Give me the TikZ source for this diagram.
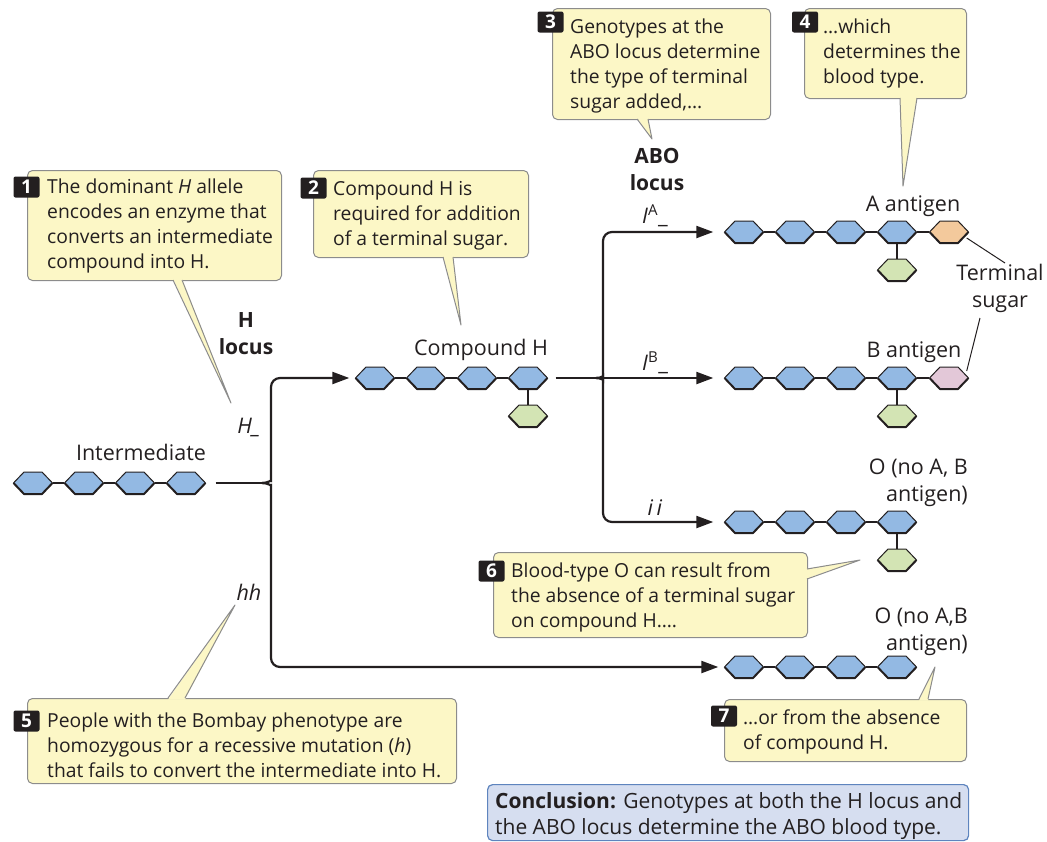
\documentclass[tikz,border=0pt]{standalone}
\usepackage{fontspec}
\setmainfont{Open Sans}
\usetikzlibrary{arrows.meta}
\definecolor{ink}{HTML}{231F20}
\definecolor{hexblue}{HTML}{93B9E3}
\definecolor{hexgreen}{HTML}{D3E4B4}
\definecolor{hexorange}{HTML}{F3C99C}
\definecolor{hexpink}{HTML}{E3C8D8}
\definecolor{callfill}{HTML}{FCF7C6}
\definecolor{callline}{HTML}{8C8C8C}
\definecolor{concfill}{HTML}{D6DEF0}
\definecolor{concline}{HTML}{5E84BE}
\tikzset{
  hexbox/.style={rectangle, minimum width=39pt, minimum height=22pt, inner sep=0pt},
  bond/.style={draw=ink, line width=1.2pt},
  flowline/.style={draw=ink, line width=2.2pt},
  flow/.style={flowline, -{Triangle[length=17pt,width=12pt]}, rounded corners=9pt},
  cbox/.style={draw=callline, line width=1pt, fill=callfill, rounded corners=5pt, inner sep=0pt, anchor=north west},
  tailfill/.style={fill=callfill},
  tailline/.style={draw=callline, line width=1pt, line join=round},
  txt/.style={inner sep=0pt, text=ink, font=\fontsize{19.3}{25}\selectfont},
  ctext/.style={txt, anchor=base west, align=left},
  lbltxt/.style={inner sep=0pt, text=ink, font=\fontsize{21.5}{26.5}\selectfont},
  lbl/.style={lbltxt, anchor=base, align=center},
  boldlbl/.style={lbl, font=\fontsize{21}{27}\selectfont\bfseries},
  badge/.style={fill=ink, rounded corners=2pt, minimum width=26pt, minimum height=21pt, inner sep=0pt, text=white, font=\fontsize{19}{19}\selectfont\bfseries},
  pointer/.style={draw=ink, line width=1pt},
}
\newcommand\hexa[4]{%
  \node[hexbox] (#1) at (#2,#3) {};
  \begin{scope}[shift={(#1.center)}]
    \fill[#4] (-19.5,0) -- (-9,-11) -- (9,-11) -- (19.5,0) -- (9,11) -- (-9,11) -- cycle;
    \draw[ink, line width=1pt, line join=round] (-19.5,0) -- (-9,-11) -- (9,-11) -- (19.5,0);
    \draw[ink, line width=2pt, line join=round] (-19.5,0) -- (-9,11) -- (9,11) -- (19.5,0);
  \end{scope}}
\begin{document}
\begin{tikzpicture}[x=1pt,y=-1pt]
\useasboundingbox (0,0) rectangle (1047,841);

% ---------- hexagon chains ----------
\hexa{i1}{33}{483}{hexblue}\hexa{i2}{84}{483}{hexblue}\hexa{i3}{135}{483}{hexblue}\hexa{i4}{186}{483}{hexblue}
\draw[bond] (i1) -- (i2) (i2) -- (i3) (i3) -- (i4);

\hexa{c1}{375}{378}{hexblue}\hexa{c2}{426}{378}{hexblue}\hexa{c3}{477}{378}{hexblue}\hexa{c4}{528}{378}{hexblue}
\hexa{c5}{528}{416}{hexgreen}
\draw[bond] (c1) -- (c2) (c2) -- (c3) (c3) -- (c4) (c4) -- (c5);

\hexa{a1}{744}{232}{hexblue}\hexa{a2}{795}{232}{hexblue}\hexa{a3}{846}{232}{hexblue}\hexa{a4}{897}{232}{hexblue}
\hexa{a5}{949}{232}{hexorange}\hexa{a6}{897}{270}{hexgreen}
\draw[bond] (a1) -- (a2) (a2) -- (a3) (a3) -- (a4) (a4) -- (a5) (a4) -- (a6);

\hexa{b1}{744}{378}{hexblue}\hexa{b2}{795}{378}{hexblue}\hexa{b3}{846}{378}{hexblue}\hexa{b4}{897}{378}{hexblue}
\hexa{b5}{949}{378}{hexpink}\hexa{b6}{897}{416}{hexgreen}
\draw[bond] (b1) -- (b2) (b2) -- (b3) (b3) -- (b4) (b4) -- (b5) (b4) -- (b6);

\hexa{o1}{744}{522}{hexblue}\hexa{o2}{795}{522}{hexblue}\hexa{o3}{846}{522}{hexblue}\hexa{o4}{897}{522}{hexblue}
\hexa{o5}{897}{560}{hexgreen}
\draw[bond] (o1) -- (o2) (o2) -- (o3) (o3) -- (o4) (o4) -- (o5);

\hexa{h1}{744}{667}{hexblue}\hexa{h2}{795}{667}{hexblue}\hexa{h3}{846}{667}{hexblue}\hexa{h4}{897}{667}{hexblue}
\draw[bond] (h1) -- (h2) (h2) -- (h3) (h3) -- (h4);

% ---------- flow arrows ----------
\coordinate (jH) at (262,483);
\coordinate (jABO) at (596,378);
\draw[flowline] ([xshift=10pt]i4.east) -- (jH);
\draw[flow, shorten >=6pt] (jH) .. controls (268,483) and (271,480) .. (271,472) -- (271,378) -- (c1);
\draw[flow, shorten >=6pt] (jH) .. controls (268,483) and (271,486) .. (271,494) -- (271,667) -- (h1);
\draw[flowline] ([xshift=8pt]c4.east) -- (jABO);
\draw[flow, shorten >=11pt] (jABO) .. controls (602,378) and (603,375) .. (603,368) -- (603,232) -- (a1);
\draw[flow, shorten >=11pt] (jABO) -- (b1);
\draw[flow, shorten >=11pt] (jABO) .. controls (602,378) and (603,381) .. (603,388) -- (603,522) -- (o1);

% ---------- labels (anchor = baseline of the last line) ----------
\node[boldlbl] (Hloc) at (246,354) {H\\locus};
\node[boldlbl] (ABOloc) at (657,190) {ABO\\locus};
\node[lbl] (Hdom) at (249,433) {\textit{H\_}};
\node[lbl] (hrec) at (249,600) {\textit{hh}};
\node[lbl] (lint) at (141,460) {Intermediate};
\node[lbl] (lcomp) at (481,355) {Compound H};
\node[lbl] (lA) at (913,211) {A antigen};
\node[lbl] (lB) at (914,357) {B antigen};
\node[lbl] (ts) at (1000,307) {Terminal\\sugar};
\node[lbltxt, anchor=base east, align=right] (lO1) at (968,501) {O (no A, B\\antigen)};
\node[lbltxt, anchor=base east, align=right] (lO2) at (968,650) {O (no A,B\\antigen)};
\node[lbl] (gA) at (655,223) {\textit{I}\textsuperscript{A}\textunderscore};
\node[lbl] (gB) at (655,370) {\textit{I}\textsuperscript{B}\textunderscore};
\node[lbl] (gi) at (655,515) {\textit{i\,i}};
\coordinate (tsA) at (1005,263);
\coordinate (tsB) at (980,318);
\draw[pointer] ([shift={(-2,6)}]a5.east) -- (tsA);
\draw[pointer] ([shift={(-2,-7)}]b5.east) -- (tsB);

% ---------- callout 1 ----------
\node[cbox, minimum width=254pt, minimum height=110pt] (k1) at (27,170) {};
\coordinate (p1) at (231,403);
\fill[tailfill] (173,278.5) -- (p1) -- (182,278.5) -- cycle;
\draw[tailline] (173,280) -- (p1) -- (182,280);
\node[ctext] (t1) at (47,268) {The dominant \textit{H} allele\\encodes an enzyme that\\converts an intermediate\\compound into H.};
\node[badge] (n1) at (26.5,187) {1};

% ---------- callout 2 ----------
\node[cbox, minimum width=215pt, minimum height=87pt] (k2) at (313,170) {};
\coordinate (p2) at (461,325);
\fill[tailfill] (443,255.5) -- (p2) -- (453,255.5) -- cycle;
\draw[tailline] (443,257) -- (p2) -- (453,257);
\node[ctext] (t2) at (333,245) {Compound H is\\required for addition\\of a terminal sugar.};
\node[badge] (n2) at (313.5,188) {2};

% ---------- callout 3 ----------
\node[cbox, minimum width=218pt, minimum height=111pt] (k3) at (552,8) {};
\coordinate (p3) at (652,139);
\fill[tailfill] (637,117.5) -- (p3) -- (648,117.5) -- cycle;
\draw[tailline] (637,119) -- (p3) -- (648,119);
\node[ctext] (t3) at (570,108) {Genotypes at the\\ABO locus determine\\the type of terminal\\sugar added,…};
\node[badge] (n3) at (550.5,22) {3};

% ---------- callout 4 ----------
\node[cbox, minimum width=162pt, minimum height=90pt] (k4) at (804,8) {};
\coordinate (p4) at (903,186);
\fill[tailfill] (900,96.5) -- (p4) -- (917,96.5) -- cycle;
\draw[tailline] (900,98) -- (p4) -- (917,98);
\node[ctext] (t4) at (823,83) {…which\\determines the\\blood type.};
\node[badge] (n4) at (805,22) {4};

% ---------- callout 5 ----------
\node[cbox, minimum width=429pt, minimum height=85pt] (k5) at (27,698) {};
\coordinate (p5) at (235,605);
\fill[tailfill] (168,699.5) -- (p5) -- (185,699.5) -- cycle;
\draw[tailline] (168,698) -- (p5) -- (185,698);
\node[ctext] (t5) at (47,777) {People with the Bombay phenotype are\\homozygous for a recessive mutation (\textit{h})\\that fails to convert the intermediate into H.};
\node[badge] (n5) at (26.5,721) {5};

% ---------- callout 6 ----------
\node[cbox, minimum width=314pt, minimum height=85pt] (k6) at (493,552) {};
\coordinate (p6) at (860,560);
\fill[tailfill] (805.5,569) -- (p6) -- (805.5,579) -- cycle;
\draw[tailline] (807,569) -- (p6) -- (807,579);
\node[ctext] (t6) at (511,627) {Blood-type O can result from\\the absence of a terminal sugar\\on compound H….};
\node[badge] (n6) at (491.5,571) {6};

% ---------- callout 7 ----------
\node[cbox, minimum width=242pt, minimum height=62pt] (k7) at (724,699) {};
\coordinate (p7) at (935,667);
\fill[tailfill] (919,700.5) -- (p7) -- (928,700.5) -- cycle;
\draw[tailline] (919,699) -- (p7) -- (928,699);
\node[ctext] (t7) at (743,749) {…or from the absence\\of compound H.};
\node[badge] (n7) at (724,716) {7};

% ---------- conclusion ----------
\node[draw=concline, fill=concfill, line width=1.2pt, rounded corners=5pt, minimum width=481pt, minimum height=56pt, inner sep=0pt, anchor=north west] (concl) at (487,784) {};
\node[ctext, font=\fontsize{21}{26}\selectfont] (tc) at (495,834) {\textbf{Conclusion:} Genotypes at both the H locus and\\the ABO locus determine the ABO blood type.};
\end{tikzpicture}
\end{document}
